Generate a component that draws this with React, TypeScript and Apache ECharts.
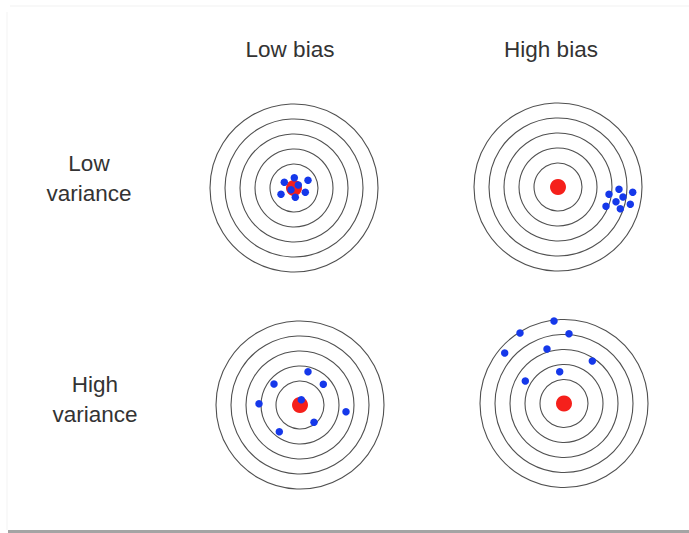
import React, { useEffect, useRef } from "react";
import * as echarts from "echarts";

// Column and row labels
const colLabels = ["Low bias", "High bias"];
const rowLabels = ["Low\nvariance", "High\nvariance"];

// Ring radii (same units as the dot coordinates)
const ringRadii = [24, 39, 54, 69, 84];

// Bullseye centre
const bullseye = [[0, 0]];

// Shots, relative to the bullseye centre (y up)
const shotsLowBiasLowVar = [
  [0.3, 10.3], [-9.7, 5.7], [14, 7.7], [4.3, 3],
  [-3, -1.7], [-13, -6.3], [1.3, -9.3], [11.3, -4.3],
];
const shotsHighBiasLowVar = [
  [51, -7.3], [61, -2.3], [74.7, -5.3], [65, -10],
  [58, -14.7], [48, -19.3], [62.3, -21.7], [72.3, -17.3],
];
const shotsLowBiasHighVar = [
  [8, 33.3], [-26, 21], [23.3, 20.7], [-41, 1.3],
  [1.3, 5.3], [46, -6.7], [14, -17.3], [-20.7, -26.7],
];
const shotsHighBiasHighVar = [
  [-10, 82.5], [-44, 70.5], [5, 69.8], [-59.3, 50.5],
  [-17, 54.5], [28.3, 42.5], [-4.3, 31.8], [-38.7, 22.5],
];

const panels = [
  { cx: 294, cy: 188, shots: shotsLowBiasLowVar },
  { cx: 558, cy: 187, shots: shotsHighBiasLowVar },
  { cx: 300, cy: 405, shots: shotsLowBiasHighVar },
  { cx: 564, cy: 403.5, shots: shotsHighBiasHighVar },
];

const HALF = 95;

export default function App() {
  const ref = useRef<HTMLDivElement>(null);
  useEffect(() => {
    document.body.style.margin = "0";
    const chart = echarts.init(ref.current!, null, { renderer: "svg" });
    const grid: any[] = [];
    const xAxis: any[] = [];
    const yAxis: any[] = [];
    const series: any[] = [];
    panels.forEach((p, i) => {
      grid.push({ left: p.cx - HALF, top: p.cy - HALF, width: HALF * 2, height: HALF * 2 });
      xAxis.push({ type: "value", gridIndex: i, min: -HALF, max: HALF, show: false });
      yAxis.push({ type: "value", gridIndex: i, min: -HALF, max: HALF, show: false });
      series.push({
        type: "custom",
        xAxisIndex: i,
        yAxisIndex: i,
        z: 1,
        silent: true,
        clip: false,
        data: ringRadii.map((r) => [r, 0]),
        renderItem: (params: any, api: any) => {
          const c = api.coord([0, 0]);
          const s = api.size([api.value(0), api.value(0)]);
          return {
            type: "circle",
            shape: { cx: c[0], cy: c[1], r: s[0] },
            style: { fill: "none", stroke: "#505050", lineWidth: 1.1 },
          };
        },
      });
      series.push({
        type: "scatter",
        xAxisIndex: i,
        yAxisIndex: i,
        z: 2,
        silent: true,
        symbolSize: 16,
        itemStyle: { color: "#f5201b", opacity: 1 },
        data: bullseye,
      });
      series.push({
        type: "scatter",
        xAxisIndex: i,
        yAxisIndex: i,
        z: 3,
        silent: true,
        symbolSize: 7.5,
        itemStyle: { color: "#1538ea", opacity: 1 },
        data: p.shots,
      });
    });
    const textStyle = { fill: "#333", fontSize: 22.5, fontFamily: "Liberation Sans, Arial, sans-serif" };
    chart.setOption({
      animation: false,
      backgroundColor: "#fff",
      grid,
      xAxis,
      yAxis,
      series,
      graphic: [
        { type: "rect", shape: { x: 10, y: 5.5, width: 679, height: 1 }, style: { fill: "#f1f1f1" } },
        { type: "rect", shape: { x: 6.5, y: 12, width: 1, height: 518 }, style: { fill: "#f3f3f3" } },
        { type: "rect", shape: { x: 8, y: 530, width: 681, height: 3 }, style: { fill: "#a4a4a4" } },
        { type: "text", x: 290, y: 49, style: { ...textStyle, text: colLabels[0], align: "center", verticalAlign: "middle" } },
        { type: "text", x: 551, y: 49, style: { ...textStyle, text: colLabels[1], align: "center", verticalAlign: "middle" } },
        { type: "text", x: 89, y: 178, style: { ...textStyle, text: rowLabels[0], align: "center", verticalAlign: "middle", lineHeight: 30 } },
        { type: "text", x: 95, y: 399, style: { ...textStyle, text: rowLabels[1], align: "center", verticalAlign: "middle", lineHeight: 30 } },
      ],
    });
    return () => chart.dispose();
  }, []);
  return <div ref={ref} style={{ width: 689, height: 533 }} />;
}
